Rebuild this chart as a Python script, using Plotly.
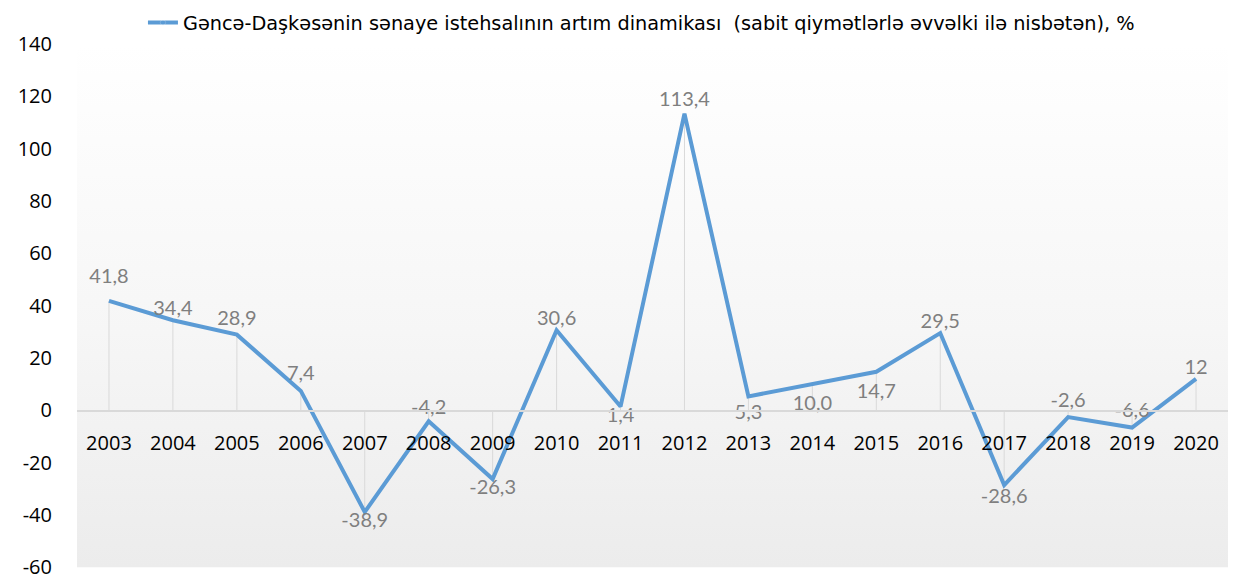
import plotly.graph_objects as go

years = ["2003", "2004", "2005", "2006", "2007", "2008", "2009", "2010", "2011",
         "2012", "2013", "2014", "2015", "2016", "2017", "2018", "2019", "2020"]
values = [41.8, 34.4, 28.9, 7.4, -38.9, -4.2, -26.3, 30.6, 1.4,
          113.4, 5.3, 10.0, 14.7, 29.5, -28.6, -2.6, -6.6, 12]
labels = ["41,8", "34,4", "28,9", "7,4", "-38,9", "-4,2", "-26,3", "30,6", "1,4",
          "113,4", "5,3", "10,0", "14,7", "29,5", "-28,6", "-2,6", "-6,6", "12"]
label_pos = ["top center", "top center", "top center", "top center", "bottom center",
             "top center", "bottom center", "top center", "bottom center", "top center",
             "bottom center", "bottom center", "bottom center", "top center",
             "bottom center", "top center", "top center", "top center"]
# invisible marker sizes: control the label distance from each point
label_gap = [19, 0, 6, 8, 0, 2, 0, 0, 0, 3, 10, 16, 16, 0, 3, 6, 8, 0]
y_ticks = [-60, -40, -20, 0, 20, 40, 60, 80, 100, 120, 140]
y_tick_text = ["-60", "-40", "-20", "0", "20", "40", "60", "80", "100", "120", "140"]
series_name = "Gəncə-Daşkəsənin sənaye istehsalının artım dinamikası  (sabit qiymətlərlə əvvəlki ilə nisbətən), %"

y_min, y_max = -60, 140
x_idx = list(range(len(years)))
x_lo, x_hi = -0.5, len(years) - 0.5

fig = go.Figure()

# background gradient
fig.add_trace(go.Scatter(
    x=[x_lo, x_hi, x_hi, x_lo, x_lo], y=[y_min, y_min, y_max, y_max, y_min],
    mode="lines", line=dict(width=0), fill="toself",
    fillgradient=dict(type="vertical", colorscale=[[0, "#ececec"], [0.45, "#f6f6f6"], [1, "#ffffff"]],
                      start=y_min, stop=y_max),
    hoverinfo="skip", showlegend=False))

# drop lines
dx, dy = [], []
for i, v in zip(x_idx, values):
    dx += [i, i, None]
    dy += [0, v, None]
fig.add_trace(go.Scatter(x=dx, y=dy, mode="lines", line=dict(color="#d9d9d9", width=1),
                         hoverinfo="skip", showlegend=False))

fig.add_trace(go.Scatter(
    x=x_idx, y=values, mode="lines+markers+text", name=series_name,
    line=dict(color="#5b9bd5", width=4),
    marker=dict(size=label_gap, opacity=0),
    text=labels, textposition=label_pos,
    textfont=dict(family="Lato, Open Sans, sans-serif", size=20, color="#7f7f7f"),
    hoverinfo="skip"))

fig.update_layout(
    width=1251, height=581,
    margin=dict(l=77, r=23, t=44, b=13, autoexpand=False),
    paper_bgcolor="white", plot_bgcolor="white",
    showlegend=True,
    legend=dict(orientation="h", x=0.0573, y=1.04, xanchor="left", yanchor="middle",
                font=dict(family="DejaVu Sans, sans-serif", size=19.3, color="#000000"),
                bgcolor="rgba(0,0,0,0)"),
    xaxis=dict(range=[x_lo, x_hi], tickvals=x_idx, ticktext=years,
               anchor="free", position=(0 - y_min) / (y_max - y_min),
               showline=True, linecolor="#d9d9d9", linewidth=1.5,
               showgrid=False, zeroline=False, ticks="", ticklabelstandoff=14,
               tickfont=dict(family="Open Sans, sans-serif", size=20, color="#000000")),
    yaxis=dict(range=[y_min - 0.3, y_max], tickvals=y_ticks, ticktext=y_tick_text,
               showgrid=False, zeroline=False, ticklabeloverflow="allow",
               showline=False, ticks="", ticklabelstandoff=24,
               tickfont=dict(family="Open Sans, sans-serif", size=20, color="#000000")),
)

fig.write_html("out.html", post_script="document.body.style.margin='0px';",
               config={"displayModeBar": False})
